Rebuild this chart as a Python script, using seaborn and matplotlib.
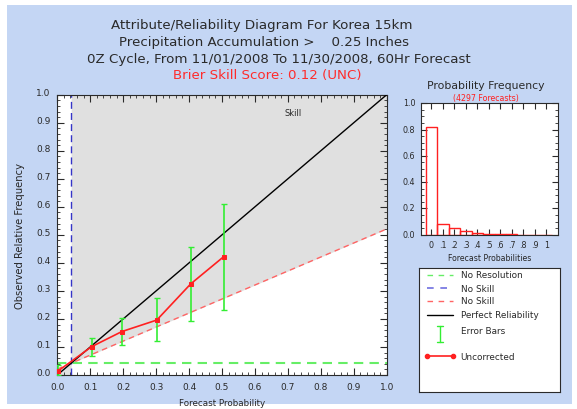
import numpy as np
import matplotlib
matplotlib.use("Agg")
import matplotlib.pyplot as plt
import matplotlib.transforms as mtrans
import seaborn as sns
from matplotlib.patches import Rectangle
from matplotlib.ticker import MultipleLocator, FixedLocator

# ---------------- data ----------------
fcst_prob = [0.003, 0.104, 0.196, 0.302, 0.405, 0.505]
obs_freq = [0.015, 0.101, 0.155, 0.196, 0.325, 0.422]
err_low = [0.000, 0.069, 0.106, 0.120, 0.194, 0.232]
err_high = [0.035, 0.131, 0.205, 0.276, 0.458, 0.610]
climo = 0.042

hist_prob = [0.0, 0.1, 0.2, 0.3, 0.4, 0.5, 0.6, 0.7, 0.8, 0.9, 1.0]
hist_freq = [0.818, 0.080, 0.048, 0.025, 0.012, 0.007, 0.006, 0.004, 0.0, 0.0, 0.0]
hist_labels = ["0", ".1", ".2", ".3", ".4", ".5", ".6", ".7", ".8", ".9", "1"]
n_forecasts = 4297
bss = 0.12

main_ticks = [0.0, 0.1, 0.2, 0.3, 0.4, 0.5, 0.6, 0.7, 0.8, 0.9, 1.0]
hist_yticks = [0.0, 0.2, 0.4, 0.6, 0.8, 1.0]

title_lines = [
    "Attribute/Reliability Diagram For Korea 15km",
    "Precipitation Accumulation >    0.25 Inches",
    "0Z Cycle, From 11/01/2008 To 11/30/2008, 60Hr Forecast",
]

# ---------------- style ----------------
sns.set_theme(style="white")
plt.rcParams["font.family"] = ["DejaVu Sans"]
TXT = "#2a2a2a"
plt.rcParams["text.color"] = TXT

W, H = 577, 410
fig = plt.figure(figsize=(W / 100, H / 100), dpi=100)
fig.patch.set_facecolor("white")

BG = "#C4D6F4"
fig.patches.append(Rectangle((7 / W, 5 / H), (572 - 7) / W, (404 - 5) / H,
                             transform=fig.transFigure, facecolor=BG,
                             edgecolor="none", zorder=-10))

def fx(px):
    return px / W

def fy(py):
    return (H - py) / H

# title (per-line centre positions, as in the original layout)
title_pos = [(261.7, 26.0), (263.8, 42.7), (278.8, 59.3)]
for line, (cx, cy) in zip(title_lines, title_pos):
    fig.text(fx(cx), fy(cy), line, ha="center", va="center", fontsize=9.6,
             color=TXT)
fig.text(fx(267.7), fy(75.5), "Brier Skill Score: %.2f (UNC)" % bss,
         ha="center", va="center", fontsize=9.6, color="#FF2B2B")

RED = "#FF2020"
GREEN = "#33EE33"
GREEN_D = "#66EE66"
BLUE = "#3434C8"
RED_D = "#FF6464"
GRAY = "#E0E0E0"

# ---------------- main reliability axes ----------------
L, R, T, B = 57.3, 386.7, 95.7, 376.0
ax = fig.add_axes([fx(L), fy(B), (R - L) / W, (B - T) / H])
ax.set_facecolor("white")
ax.set_xlim(0, 1)
ax.set_ylim(0, 1)

xs = np.linspace(0, 1, 201)
xs = np.union1d(xs, [climo])
noskill = (xs + climo) / 2.0
ax.fill_between(xs, noskill, 1.0, where=xs >= climo, color=GRAY, lw=0, zorder=0)
ax.fill_between(xs, 0, noskill, where=xs <= climo, color=GRAY, lw=0, zorder=0)

ax.plot([0, 1], [climo / 2, (1 + climo) / 2], color=RED_D, lw=1.0,
        dashes=(4, 3), zorder=2)
ax.axhline(climo, color=GREEN_D, lw=1.5, dashes=(4.5, 3), zorder=2)
ax.axvline(climo, color=BLUE, lw=1.0, dashes=(5, 3), zorder=2)
ax.plot([0, 1], [0, 1], color="black", lw=1.0, zorder=3)

fp = np.array(fcst_prob)
lo = np.array(err_low)
hi = np.array(err_high)
ax.errorbar(fp, (lo + hi) / 2, yerr=(hi - lo) / 2, fmt="none", ecolor=GREEN,
            elinewidth=1.2, capsize=2.3, capthick=1.0, zorder=4)
sns.lineplot(x=fcst_prob, y=obs_freq, ax=ax, color=RED, lw=1.2, marker="s",
             markersize=3.2, markeredgecolor=RED, sort=False, zorder=5)

ax.text(0.716, 0.935, "Skill", fontsize=6, ha="center", va="center",
        color=TXT)

ax.xaxis.set_major_locator(FixedLocator(main_ticks))
ax.yaxis.set_major_locator(FixedLocator(main_ticks))
ax.xaxis.set_minor_locator(MultipleLocator(0.02))
ax.yaxis.set_minor_locator(MultipleLocator(0.02))
ax.set_xticklabels(["%.1f" % t for t in main_ticks])
ax.set_yticklabels(["%.1f" % t for t in main_ticks])
ax.tick_params(which="major", direction="in", top=True, right=True,
               bottom=True, left=True,
               length=5, width=0.8, labelsize=6.5, pad=5, colors=TXT)
ax.tick_params(which="minor", direction="in", top=True, right=True,
               bottom=True, left=True,
               length=2.5, width=0.6, colors=TXT)
for s in ax.spines.values():
    s.set_color(TXT)
    s.set_linewidth(0.8)
ax.set_xlabel("Forecast Probability", fontsize=6.3, labelpad=5)
ax.set_ylabel("Observed Relative Frequency", fontsize=7.2, labelpad=8)
up = mtrans.ScaledTranslation(0, 3 / 100, fig.dpi_scale_trans)
for lab in ax.get_yticklabels():
    lab.set_transform(lab.get_transform() + up)

# ---------------- histogram axes ----------------
hL, hR, hT, hB = 421.0, 557.7, 104.3, 235.7
hax = fig.add_axes([fx(hL), fy(hB), (hR - hL) / W, (hB - hT) / H])
hax.set_facecolor("white")
hax.bar(hist_prob, hist_freq, width=0.1, fill=False, edgecolor=RED,
        linewidth=1.0, zorder=3)
hax.set_xlim(-0.09, 1.1)
hax.set_ylim(0, 1.0)
hax.xaxis.set_major_locator(FixedLocator(hist_prob))
hax.set_xticklabels(hist_labels)
hax.yaxis.set_major_locator(FixedLocator(hist_yticks))
hax.set_yticklabels(["%.1f" % t for t in hist_yticks])
hax.yaxis.set_minor_locator(MultipleLocator(0.05))
hax.tick_params(which="major", direction="in", top=True, right=True,
                bottom=True, left=True,
                length=4, width=0.8, labelsize=5.8, pad=4, colors=TXT)
hax.tick_params(which="minor", direction="in", left=True, right=True,
                length=2, width=0.6, colors=TXT)
for s in hax.spines.values():
    s.set_color(TXT)
    s.set_linewidth(0.8)
hax.set_ylabel("")
hax.set_xlabel("Forecast Probabilities", fontsize=5.6, labelpad=3)
up2 = mtrans.ScaledTranslation(0, 1.5 / 100, fig.dpi_scale_trans)
for lab in hax.get_yticklabels():
    lab.set_transform(lab.get_transform() + up2)
fig.text(fx(486), fy(86), "Probability Frequency", ha="center", va="center",
         fontsize=7.8, color=TXT)
fig.text(fx(486), fy(98.5), "(%d Forecasts)" % n_forecasts, ha="center",
         va="center", fontsize=5.7, color=RED)

# ---------------- legend box ----------------
gL, gT, gR, gB = 419.3, 269.3, 560.0, 393.0
gax = fig.add_axes([fx(gL), fy(gB), (gR - gL) / W, (gB - gT) / H])
gax.set_facecolor("white")
gax.set_xlim(0, gR - gL)
gax.set_ylim(gB - gT, 0)
gax.set_xticks([])
gax.set_yticks([])
for s in gax.spines.values():
    s.set_color(TXT)
    s.set_linewidth(0.8)

x0, x1, xt = 7.4, 34.0, 41.4
entries = [
    (6.7, "No Resolution"),
    (20.0, "No Skill"),
    (32.7, "No Skill"),
    (46.4, "Perfect Reliability"),
    (62.7, "Error Bars"),
    (87.7, "Uncorrected"),
]
gax.plot([x0, x1], [6.7, 6.7], color=GREEN_D, lw=1.0, dashes=(4, 4))
gax.plot([x0, x1], [20.0, 20.0], color="#7070E0", lw=1.2, dashes=(4, 4))
gax.plot([x0, x1], [32.7, 32.7], color=RED_D, lw=1.0, dashes=(4, 4))
gax.plot([x0, x1], [46.4, 46.4], color="black", lw=1.0)
xm = (x0 + x1) / 2
gax.plot([xm, xm], [57.4, 74.0], color=GREEN, lw=1.0)
gax.plot([xm - 3, xm + 3], [57.4, 57.4], color=GREEN, lw=1.0)
gax.plot([xm - 3, xm + 3], [74.0, 74.0], color=GREEN, lw=1.0)
gax.plot([x0, x1], [87.7, 87.7], color=RED, lw=1.2, marker="o",
         markersize=3)
for y, lab in entries:
    gax.text(xt, y, lab, fontsize=6.4, ha="left", va="center", color=TXT)

fig.savefig("out.png", dpi=100, facecolor="white")
